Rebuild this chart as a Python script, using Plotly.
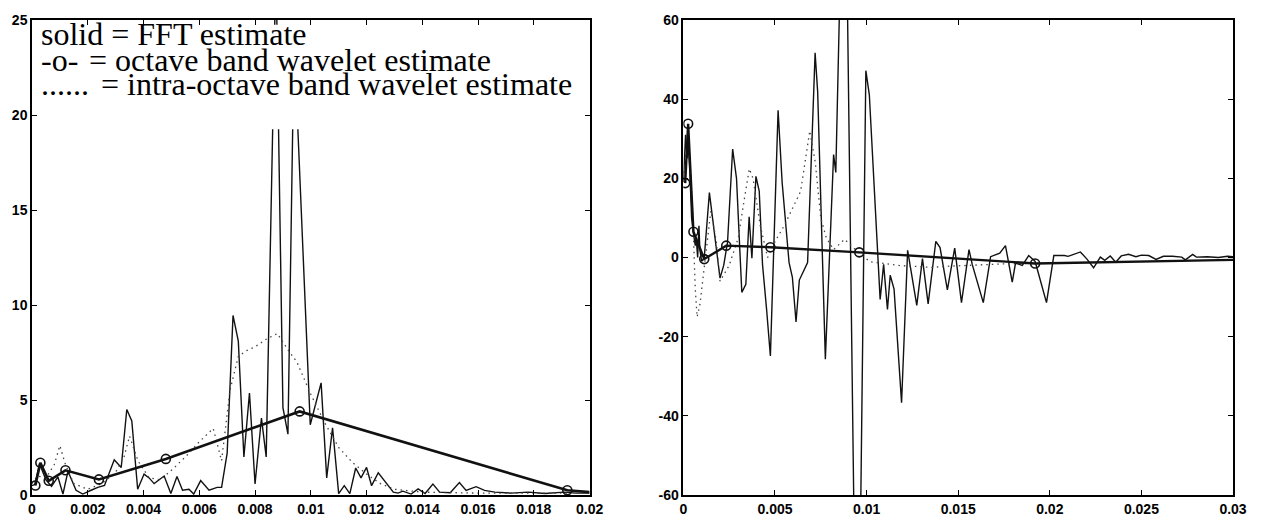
import plotly.graph_objects as go

# ---------------- data: left panel (power spectrum) ----------------
fft_l_x = [0, 0.0001, 0.00027, 0.0005, 0.0007, 0.00093, 0.00111, 0.00129, 0.00158, 0.00182,
           0.00212, 0.00236, 0.0026, 0.00295, 0.0032, 0.0034, 0.00358, 0.00379, 0.00402, 0.0042,
           0.00438, 0.00474, 0.00498, 0.0052, 0.0054, 0.00563, 0.0058, 0.00605, 0.00635, 0.00664,
           0.0068, 0.007, 0.00721, 0.0074, 0.0076, 0.0078, 0.008, 0.00823, 0.0084, 0.00875,
           0.009, 0.00918, 0.0094, 0.00998, 0.01037, 0.01057, 0.01078, 0.011, 0.0112, 0.0114,
           0.01161, 0.0118, 0.012, 0.01218, 0.01242, 0.01266, 0.01296, 0.01313, 0.0133, 0.0136,
           0.01385, 0.0141, 0.01438, 0.01462, 0.015, 0.01533, 0.01557, 0.01593, 0.01623, 0.0166,
           0.01718, 0.0178, 0.0184, 0.01908, 0.0195, 0.02]
fft_l_y = [0.5, 0.55, 1.65, 0.8, 0.45, 0.95, 0.05, 1.25, 0.25, 0.05,
           0.25, 0.4, 0.5, 1.85, 1.45, 4.5, 3.9, 0.3, 1.1, 0.9,
           0.6, 1.0, 0.08, 0.97, 0.25, 0.3, 0.05, 0.76, 0.25, 0.4,
           0.4, 2.2, 9.45, 8.1, 2.0, 5.37, 0.58, 4.05, 2.0, 28.0,
           4.6, 3.2, 24.0, 3.7, 5.9, 0.9, 3.54, 0.07, 0.49, 0.07,
           1.42, 0.9, 1.45, 0.49, 1.17, 0.74, 0.15, 0.1, 0.2, 0.05,
           0.32, 0.08, 0.57, 0.15, 0.12, 0.66, 0.24, 0.44, 0.24, 0.15,
           0.1, 0.15, 0.08, 0.15, 0.1, 0.1]

oct_l_x = [0.00012, 0.0003, 0.0006, 0.0012, 0.0024, 0.0048, 0.0096, 0.0192, 0.02]
oct_l_y = [0.5, 1.7, 0.75, 1.3, 0.82, 1.9, 4.4, 0.25, 0.15]

intra_l_x = [0, 0.0002, 0.0005, 0.0008, 0.001, 0.0012, 0.0015, 0.002, 0.0025, 0.003,
             0.0033, 0.0035, 0.0038, 0.0042, 0.0046, 0.005, 0.0055, 0.006, 0.0065, 0.0068,
             0.0071, 0.0074, 0.0077, 0.008, 0.0084, 0.0088, 0.0092, 0.0095, 0.01, 0.0105,
             0.011, 0.0115, 0.012, 0.0125, 0.013, 0.014, 0.016, 0.018, 0.0192]
intra_l_y = [0.6, 1.0, 0.9, 1.6, 2.6, 1.6, 0.6, 0.3, 0.6, 1.2,
             2.0, 3.1, 1.8, 0.9, 0.8, 1.3, 2.0, 2.8, 3.5, 1.8,
             5.5, 7.3, 7.6, 7.8, 8.2, 8.5, 7.6, 7.0, 5.3, 3.8,
             2.5, 1.7, 1.1, 0.6, 0.3, 0.15, 0.1, 0.1, 0.1]

# ---------------- data: right panel ----------------
fft_r_x = [0, 0.00012, 0.0002, 0.00027, 0.00035, 0.00045, 0.00055, 0.00065, 0.0007, 0.00078,
           0.00085, 0.0009, 0.001, 0.00114, 0.00142, 0.0016, 0.002, 0.0022, 0.00241, 0.00269,
           0.0029, 0.00305, 0.00319, 0.00341, 0.00359, 0.00374, 0.00396, 0.00414, 0.00432, 0.00454,
           0.00475, 0.00517, 0.00539, 0.00577, 0.00595, 0.00615, 0.00633, 0.00678, 0.00719, 0.00733,
           0.00775, 0.0082, 0.00832, 0.0088, 0.0095, 0.00996, 0.01015, 0.01074, 0.01093, 0.01114,
           0.01129, 0.0115, 0.01191, 0.01224, 0.01274, 0.01305, 0.01336, 0.01378, 0.01401, 0.01441,
           0.01481, 0.01518, 0.01559, 0.01577, 0.01637, 0.01677, 0.01727, 0.01758, 0.01795, 0.01813,
           0.0185, 0.01885, 0.0192, 0.01982, 0.02022, 0.0208, 0.021, 0.02167, 0.02203, 0.02239,
           0.02276, 0.023, 0.0233, 0.0236, 0.0239, 0.0243, 0.0247, 0.025, 0.0254, 0.0258,
           0.0262, 0.0267, 0.0272, 0.0274, 0.0278, 0.028, 0.0286, 0.0292, 0.0297, 0.03]
fft_r_y = [19, 31, 25, 28, 22, 10, 6, 3, 5, 0,
           8, 2, -1, 0, 16.4, 9.5, -5.2, -2, 3.8, 27.4,
           20, 5, -8.8, -6.8, 10.3, -0.2, 20.5, 16.8, -1.8, -13,
           -24.9, 37.2, 19, -1.3, -5, -16.3, -5.7, -1.3, 51.7, 41.9,
           -25.7, 26, 21.5, 120, -134, 47.2, 41.1, -10.6, -1.7, -13.1,
           -4.5, -8, -36.7, 1.8, -12.1, -0.3, -11.7, 4.1, 2.5, -8.2,
           2.4, -11.4, 2.0, -1.8, -11.4, 0.2, 1.1, 3.0, -6.2, -1.4,
           -2, 0.5, -1, -11.4, 0.5, 0.5, 0.3, 1.4, -0.4, -2.6,
           0.1, -0.7, 0.4, -1.2, 0.4, 0.8, 0.2, 0.6, 0.5, -0.5,
           0.3, 0.3, 0.1, -0.6, 0.8, 0.1, 0.2, 0.0, 0.3, 0.2]

oct_r_x = [0.0001, 0.00026, 0.00055, 0.00114, 0.00234, 0.00475, 0.0096, 0.0192, 0.03]
oct_r_y = [18.8, 33.8, 6.5, -0.4, 3.0, 2.6, 1.3, -1.5, -0.6]

intra_r_x = [0, 0.0002, 0.00035, 0.0005, 0.00065, 0.00075, 0.0009, 0.0012, 0.0015, 0.0018,
             0.002, 0.0025, 0.003, 0.0033, 0.0036, 0.0038, 0.0042, 0.0046, 0.005, 0.0055,
             0.0059, 0.0064, 0.0069, 0.0072, 0.0075, 0.0078, 0.0082, 0.0088, 0.0095, 0.0102,
             0.011, 0.0117, 0.0125, 0.0135, 0.0145, 0.0155, 0.0165, 0.0175, 0.0192]
intra_r_y = [20, 28, 26, 12, -8, -15, -12, 0, 11.8, 4,
             -6, -2, 5, 14, 22.4, 20, 8, 0, 4, 8,
             11.8, 16.7, 32, 24, 10, 5, 2, 4.6, 1.5, -1.1,
             -1.5, -2, -2.2, -2.5, -2.2, -2, -1.8, -1.6, -1.5]

# ---------------- tick labels ----------------
lx_ticks = [0, 0.002, 0.004, 0.006, 0.008, 0.01, 0.012, 0.014, 0.016, 0.018, 0.02]
lx_text = ["0", "0.002", "0.004", "0.006", "0.008", "0.01", "0.012", "0.014", "0.016", "0.018", "0.02"]
ly_ticks = [0, 5, 10, 15, 20, 25]
ly_text = ["0", "5", "10", "15", "20", "25"]
rx_ticks = [0, 0.005, 0.01, 0.015, 0.02, 0.025, 0.03]
rx_text = ["0", "0.005", "0.01", "0.015", "0.02", "0.025", "0.03"]
ry_ticks = [-60, -40, -20, 0, 20, 40, 60]
ry_text = ["-60", "-40", "-20", "0", "20", "40", "60"]

legend_lines = [
    ("solid = FFT estimate", None),
    ("-o-", "= octave band wavelet estimate"),
    ("......", "= intra-octave band wavelet estimate"),
]

# ---------------- figure ----------------
W, H = 1264, 529
ML, MR, MT, MB = 29, 31, 16, 21
PW, PH = W - ML - MR, H - MT - MB

def px_x(p):
    return (p - ML) / PW

def px_y(p):
    return (H - MB - p) / PH

INK = "#111111"
fig = go.Figure()

fig.add_trace(go.Scatter(x=fft_l_x, y=fft_l_y, mode="lines", xaxis="x", yaxis="y",
                         line=dict(color=INK, width=1.4), showlegend=False))
fig.add_trace(go.Scatter(x=intra_l_x, y=intra_l_y, mode="lines", xaxis="x", yaxis="y",
                         line=dict(color="#444444", width=1.3, dash="1.5px,4px"), showlegend=False))
fig.add_trace(go.Scatter(x=oct_l_x[:-1], y=oct_l_y[:-1], mode="markers", xaxis="x", yaxis="y",
                         marker=dict(symbol="circle-open", size=9, color=INK, line=dict(width=1.6)),
                         showlegend=False))
fig.add_trace(go.Scatter(x=oct_l_x, y=oct_l_y, mode="lines", xaxis="x", yaxis="y",
                         line=dict(color=INK, width=2.6), showlegend=False))

fig.add_trace(go.Scatter(x=fft_r_x, y=fft_r_y, mode="lines", xaxis="x2", yaxis="y2",
                         line=dict(color=INK, width=1.4), showlegend=False))
fig.add_trace(go.Scatter(x=intra_r_x, y=intra_r_y, mode="lines", xaxis="x2", yaxis="y2",
                         line=dict(color="#444444", width=1.3, dash="1.5px,4px"), showlegend=False))
fig.add_trace(go.Scatter(x=oct_r_x[:-1], y=oct_r_y[:-1], mode="markers", xaxis="x2", yaxis="y2",
                         marker=dict(symbol="circle-open", size=9, color=INK, line=dict(width=1.6)),
                         showlegend=False))
fig.add_trace(go.Scatter(x=oct_r_x, y=oct_r_y, mode="lines", xaxis="x2", yaxis="y2",
                         line=dict(color=INK, width=2.4), showlegend=False))

tickfont = dict(family="Liberation Sans, Arial, sans-serif", size=14, color="black", weight="bold")
common = dict(showline=True, linecolor="black", linewidth=1.5, mirror="ticks",
              ticks="inside", ticklen=5, tickwidth=1.2, tickcolor="black",
              showgrid=False, zeroline=False, tickfont=tickfont, fixedrange=True)

x1_end = (588 - ML) / PW
x2_start = (682 - ML) / PW

fig.update_layout(
    width=W, height=H,
    margin=dict(l=ML, r=MR, t=MT, b=MB),
    paper_bgcolor="white", plot_bgcolor="white",
    xaxis=dict(domain=[0, x1_end], range=[0, 0.02], tickvals=lx_ticks, ticktext=lx_text,
               anchor="y", **common),
    yaxis=dict(domain=[0, 1], range=[0, 25], tickvals=ly_ticks, ticktext=ly_text,
               anchor="x", **common),
    xaxis2=dict(domain=[x2_start, 1], range=[0, 0.03], tickvals=rx_ticks, ticktext=rx_text,
                anchor="y2", **common),
    yaxis2=dict(domain=[0, 1], range=[-60, 60], tickvals=ry_ticks, ticktext=ry_text,
                anchor="x2", **common),
)

# white legend box area that hides the tops of the tall spikes
fig.add_shape(type="rect", xref="x", yref="y", x0=0.0083, x1=0.0099, y0=19.25, y1=24.75,
              fillcolor="white", line=dict(width=0), layer="above")

serif = dict(family="Liberation Serif, Times New Roman, serif", size=32, color="black")
baselines = [41, 68, 93]
second_x = [None, 85, 97]
for (a, b), base, sx in zip(legend_lines, baselines, second_x):
    cy = px_y(base - 10.8)
    fig.add_annotation(text=a, x=px_x(37), y=cy, xref="paper", yref="paper",
                       xanchor="left", yanchor="middle", showarrow=False, font=serif, borderpad=0)
    if b:
        fig.add_annotation(text=b, x=px_x(sx), y=cy, xref="paper", yref="paper",
                           xanchor="left", yanchor="middle", showarrow=False, font=serif, borderpad=0)

fig.write_html("out.html")
